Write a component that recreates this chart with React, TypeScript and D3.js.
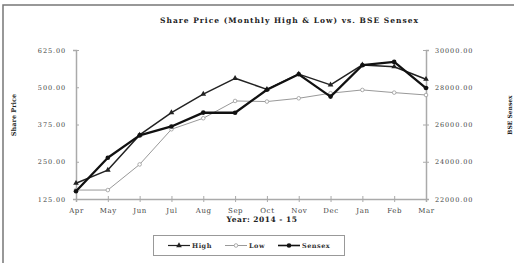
import React, { useRef, useEffect } from 'react';
import * as d3 from 'd3';

const months = ['Apr', 'May', 'Jun', 'Jul', 'Aug', 'Sep', 'Oct', 'Nov', 'Dec', 'Jan', 'Feb', 'Mar'];
const high = [178, 222, 340, 415, 477, 530, 493, 544, 508, 575, 569, 527];
const low = [155, 155, 241, 359, 396, 454, 452, 463, 480, 491, 482, 474];
const sensex = [22418, 24217, 25414, 25895, 26638, 26631, 27866, 28694, 27499, 29183, 29362, 27957];
const leftTicks = [125, 250, 375, 500, 625];
const rightTicks = [22000, 24000, 26000, 28000, 30000];

const FONT = '"DejaVu Serif", serif';

function App() {
  const svgRef = useRef<SVGSVGElement>(null);

  useEffect(() => {
    const svg = d3.select(svgRef.current);
    svg.selectAll('*').remove();

    const x = d3.scalePoint().domain(months).range([76, 426]);
    const yL = d3.scaleLinear().domain([125, 625]).range([199, 50]);
    const yR = d3.scaleLinear().domain([22000, 30000]).range([199, 50]);

    // outer frame
    svg.append('rect')
      .attr('x', 3).attr('y', 5).attr('width', 530).attr('height', 280)
      .attr('fill', 'none').attr('stroke', '#777').attr('stroke-width', 1.5);

    svg.append('text')
      .attr('x', 289).attr('y', 23).attr('text-anchor', 'middle')
      .attr('font-family', FONT).attr('font-size', 7.5).attr('font-weight', 'bold')
      .attr('fill', '#222')
      .attr('textLength', 258).attr('lengthAdjust', 'spacing')
      .text('Share Price (Monthly High & Low) vs. BSE Sensex');

    const styleAxis = (g: any) => {
      g.select('.domain').attr('stroke', '#aaa').attr('stroke-width', 1.5);
      g.selectAll('.tick line').attr('stroke', '#aaa');
      g.selectAll('.tick text')
        .attr('font-family', FONT).attr('font-size', 6.5).attr('fill', '#444')
        .attr('letter-spacing', 0.9);
    };

    // left axis
    const gl = svg.append('g').attr('transform', 'translate(76,0)')
      .call(d3.axisLeft(yL).tickValues(leftTicks).tickFormat(d3.format('.2f')).tickSizeOuter(0).tickSize(3).tickPadding(7));
    gl.selectAll('.tick line').attr('x2', 3);
    styleAxis(gl);

    // right axis
    const gr = svg.append('g').attr('transform', 'translate(426,0)')
      .call(d3.axisRight(yR).tickValues(rightTicks).tickFormat(d3.format('.2f')).tickSizeOuter(0).tickSize(3).tickPadding(6));
    gr.selectAll('.tick line').attr('x1', -3);
    styleAxis(gr);

    // bottom axis
    const gb = svg.append('g').attr('transform', 'translate(0,199)')
      .call(d3.axisBottom(x).tickSizeOuter(0).tickSize(3).tickPadding(6));
    gb.selectAll('.tick line').attr('y1', -3);
    styleAxis(gb);
    gb.selectAll('.tick text').attr('font-size', 7).attr('letter-spacing', 0.6);

    svg.append('text')
      .attr('x', 262).attr('y', 222).attr('text-anchor', 'middle')
      .attr('font-family', FONT).attr('font-size', 7.5).attr('font-weight', 'bold').attr('fill', '#222')
      .attr('letter-spacing', 0.5)
      .text('Year: 2014 - 15');

    svg.append('text')
      .attr('transform', 'translate(16,115) rotate(-90)').attr('text-anchor', 'middle')
      .attr('font-family', FONT).attr('font-size', 6.5).attr('font-weight', 'bold').attr('fill', '#222')
      .text('Share Price');

    svg.append('text')
      .attr('transform', 'translate(512,115) rotate(-90)').attr('text-anchor', 'middle')
      .attr('font-family', FONT).attr('font-size', 6).attr('font-weight', 'bold').attr('fill', '#222')
      .text('BSE Sensex');

    const series = [
      { name: 'Low', values: low, y: yL, color: '#999', width: 1, marker: 'open' },
      { name: 'High', values: high, y: yL, color: '#222', width: 1.5, marker: 'triangle' },
      { name: 'Sensex', values: sensex, y: yR, color: '#111', width: 2.3, marker: 'circle' },
    ];

    const drawMarker = (g: any, kind: string, cx: number, cy: number, color: string) => {
      if (kind === 'triangle') {
        g.append('path')
          .attr('d', d3.symbol().type(d3.symbolTriangle).size(14)())
          .attr('transform', `translate(${cx},${cy})`).attr('fill', color);
      } else if (kind === 'circle') {
        g.append('circle').attr('cx', cx).attr('cy', cy).attr('r', 2.3).attr('fill', color);
      } else {
        g.append('circle').attr('cx', cx).attr('cy', cy).attr('r', 1.8)
          .attr('fill', '#fff').attr('stroke', color).attr('stroke-width', 0.8);
      }
    };

    series.forEach(s => {
      const line = d3.line<number>()
        .x((d, i) => x(months[i]) as number)
        .y(d => s.y(d));
      svg.append('path').datum(s.values)
        .attr('d', line).attr('fill', 'none')
        .attr('stroke', s.color).attr('stroke-width', s.width).attr('stroke-linejoin', 'round');
      const mg = svg.append('g');
      s.values.forEach((v, i) => drawMarker(mg, s.marker, x(months[i]) as number, s.y(v), s.color));
    });

    // legend
    svg.append('rect')
      .attr('x', 153.5).attr('y', 235.5).attr('width', 191).attr('height', 20)
      .attr('fill', 'none').attr('stroke', '#999').attr('stroke-width', 1);

    const legendItems = [
      { label: 'High', x: 168, color: '#222', width: 1.2, marker: 'triangle' },
      { label: 'Low', x: 225, color: '#999', width: 1, marker: 'open' },
      { label: 'Sensex', x: 278, color: '#111', width: 1.6, marker: 'circle' },
    ];
    legendItems.forEach(it => {
      const g = svg.append('g');
      g.append('line').attr('x1', it.x).attr('x2', it.x + 22).attr('y1', 245.5).attr('y2', 245.5)
        .attr('stroke', it.color).attr('stroke-width', it.width);
      drawMarker(g, it.marker, it.x + 11, 245.5, it.color);
      g.append('text').attr('x', it.x + 24).attr('y', 248)
        .attr('font-family', FONT).attr('font-size', 6.5).attr('font-weight', 'bold').attr('fill', '#333')
        .attr('letter-spacing', 0.5)
        .text(it.label);
    });
  }, []);

  return (
    <svg ref={svgRef} width={514} height={263}
      style={{ position: 'absolute', left: 0, top: 0, background: '#fff' }} />
  );
}

export default App;
